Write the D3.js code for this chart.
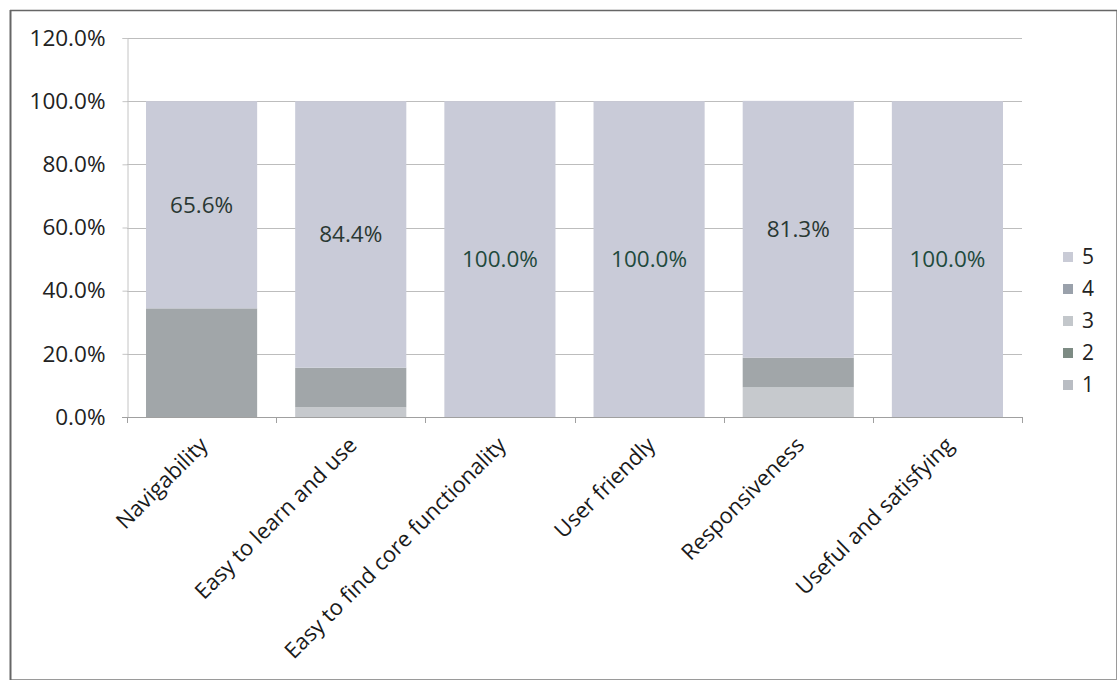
<!DOCTYPE html>
<html>
<head>
<meta charset="utf-8">
<script src="https://cdn.jsdelivr.net/npm/d3@7"></script>
<style>
  html, body { margin: 0; padding: 0; background: #fff; }
  svg { display: block; }
  text { font-family: "Open Sans", "Liberation Sans", sans-serif; }
</style>
</head>
<body>
<svg id="chart" width="1119" height="682"></svg>
<script>
const categories = ["Navigability", "Easy to learn and use", "Easy to find core functionality", "User friendly", "Responsiveness", "Useful and satisfying"];
const seriesNames = ["1", "2", "3", "4", "5"];
const s1 = [0, 0, 0, 0, 0, 0];
const s2 = [0, 0, 0, 0, 0, 0];
const s3 = [0, 3.1, 0, 0, 9.4, 0];
const s4 = [34.4, 12.5, 0, 0, 9.4, 0];
const s5 = [65.6, 84.4, 100, 100, 81.3, 100];
const labelValues = ["65.6%", "84.4%", "100.0%", "100.0%", "81.3%", "100.0%"];
const yTicks = [0, 20, 40, 60, 80, 100, 120];
const colors = { "1": "#bdc0c6", "2": "#7f8c86", "3": "#c6c9cd", "4": "#a1a6a9", "5": "#c9cbd8" };
const legendColors = { "1": "#b9bdc3", "2": "#7d8b84", "3": "#c3c7cb", "4": "#9aa1ab", "5": "#c9cbd6" };

const svg = d3.select("#chart");
const x0 = 127, x1 = 1022, yTop = 38, yBottom = 417;

const rows = categories.map((c, i) => ({ cat: c, "1": s1[i], "2": s2[i], "3": s3[i], "4": s4[i], "5": s5[i], label: labelValues[i] }));
const stacked = d3.stack().keys(seriesNames)(rows);

const x = d3.scaleBand().domain(categories).range([x0, x1]).paddingInner(0.255).paddingOuter(0.1275);
const y = d3.scaleLinear().domain([0, 120]).range([yBottom, yTop]);

// outer frame
svg.append("rect").attr("x", 10.5).attr("y", 10.5).attr("width", 1106).attr("height", 669)
  .attr("fill", "none").attr("stroke", "#9a9a9a").attr("stroke-width", 1);
svg.append("line").attr("x1", 10.5).attr("x2", 10.5).attr("y1", 10).attr("y2", 680).attr("stroke", "#666").attr("stroke-width", 2);
svg.append("line").attr("x1", 10).attr("x2", 1117).attr("y1", 10.5).attr("y2", 10.5).attr("stroke", "#666").attr("stroke-width", 1.5);

// gridlines
svg.append("g").selectAll("line").data(yTicks.filter(t => t > 0)).join("line")
  .attr("x1", x0).attr("x2", x1)
  .attr("y1", d => Math.round(y(d)) + 0.5).attr("y2", d => Math.round(y(d)) + 0.5)
  .attr("stroke", "#bdbdbd").attr("stroke-width", 1);

// y axis
const yAxis = d3.axisLeft(y).tickValues(yTicks).tickSize(5).tickPadding(17).tickFormat(d => d.toFixed(1) + "%");
const gy = svg.append("g").attr("transform", `translate(${x0 + 0.5},0)`).call(yAxis);
gy.select(".domain").attr("stroke", "#c4c4c4");
gy.selectAll(".tick line").attr("stroke", "#c4c4c4");
gy.selectAll(".tick text").attr("font-size", 22.5).attr("fill", "#222")
  .attr("font-family", "'Open Sans', sans-serif");

// bars
svg.append("g").selectAll("g").data(stacked).join("g")
  .attr("fill", d => colors[d.key])
  .selectAll("rect").data(d => d).join("rect")
  .attr("x", d => x(d.data.cat))
  .attr("width", x.bandwidth())
  .attr("y", d => y(d[1]))
  .attr("height", d => y(d[0]) - y(d[1]));

// x axis
const xAxis = d3.axisBottom(x).tickSize(0).tickFormat("");
const gx = svg.append("g").attr("transform", `translate(0,${yBottom + 0.5})`).call(xAxis);
gx.select(".domain").attr("stroke", "#a0a0a0").attr("d", `M${x0 - 5},0H${x1}`);
const bounds = d3.range(categories.length + 1).map(i => x0 + i * x.step());
svg.append("g").selectAll("line").data(bounds).join("line")
  .attr("x1", d => Math.round(d) + 0.5).attr("x2", d => Math.round(d) + 0.5)
  .attr("y1", yBottom).attr("y2", yBottom + 6)
  .attr("stroke", "#a0a0a0");

// category labels
svg.append("g").selectAll("text").data(categories).join("text")
  .attr("transform", d => `translate(${x(d) + x.bandwidth() / 2 + 2},${yBottom + 24}) rotate(-45)`)
  .attr("text-anchor", "end")
  .attr("dy", "0.35em")
  .attr("font-size", 22)
  .attr("fill", "#1a1a1a")
  .text(d => d);

// data labels (top series)
const topSeries = stacked[stacked.length - 1];
svg.append("g").selectAll("text").data(topSeries).join("text")
  .attr("x", d => x(d.data.cat) + x.bandwidth() / 2)
  .attr("y", d => y((d[0] + d[1]) / 2))
  .attr("dy", "0.35em")
  .attr("text-anchor", "middle")
  .attr("font-size", 22.5)
  .attr("fill", d => d.data.label === "100.0%" ? "#1f4a3d" : "#2a3833")
  .text(d => d.data.label);

// legend
const legendKeys = seriesNames.slice().reverse();
const lg = svg.append("g").selectAll("g").data(legendKeys).join("g")
  .attr("transform", (d, i) => `translate(1063,${257 + i * 32})`);
lg.append("rect").attr("x", 0).attr("y", -5).attr("width", 10).attr("height", 10)
  .attr("fill", d => legendColors[d]);
lg.append("text").attr("x", 19).attr("dy", "0.35em").attr("font-size", 21).attr("fill", "#222").text(d => d);
</script>
</body>
</html>
